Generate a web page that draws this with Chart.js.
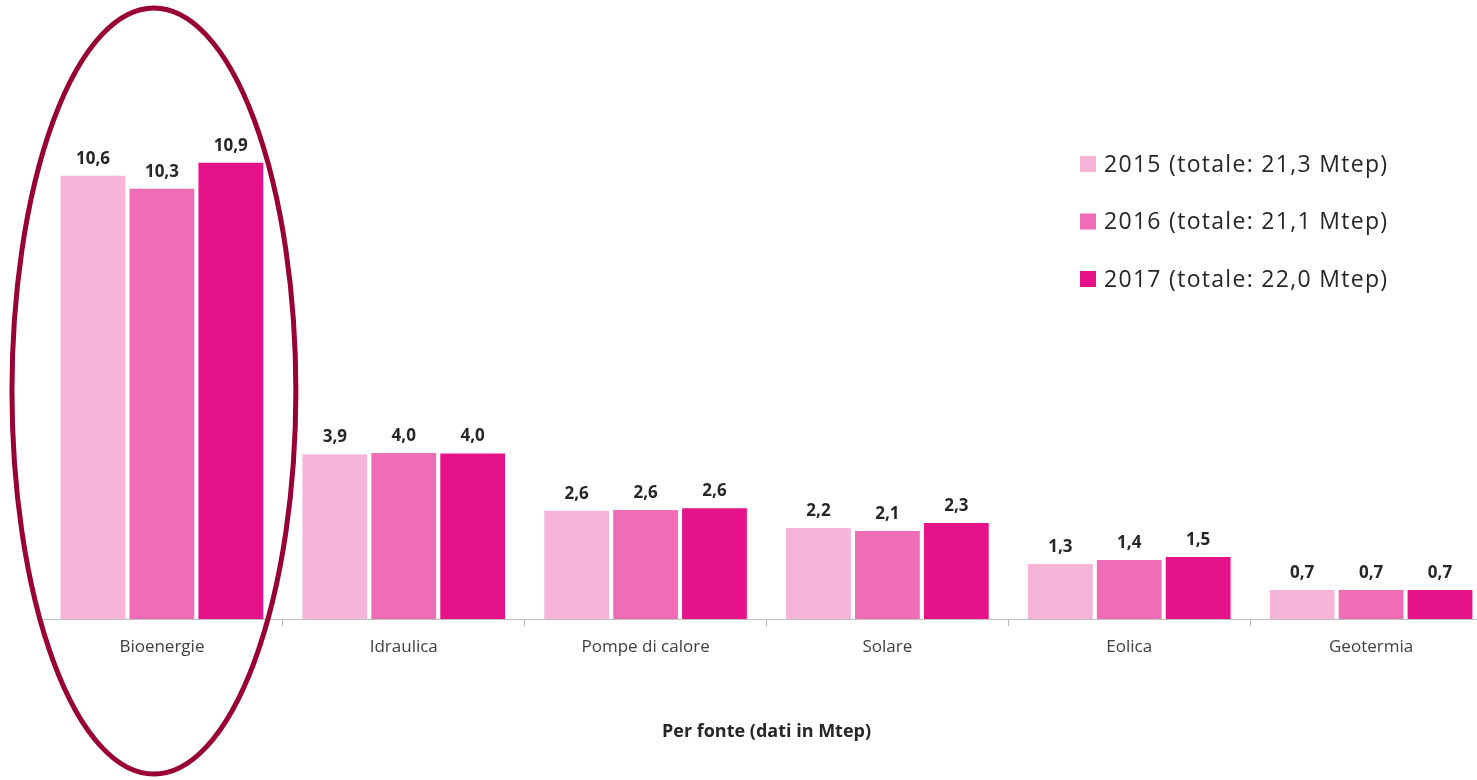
<!DOCTYPE html>
<html>
<head>
<meta charset="utf-8">
<script src="https://cdn.jsdelivr.net/npm/chart.js@4.4.1/dist/chart.umd.min.js"></script>
<style>
    html, body { margin: 0; padding: 0; background: #fff; overflow: hidden; }
    #wrap { position: absolute; left: 0; top: 0; width: 1492px; height: 780px; }
</style>
</head>
<body>
<div id="wrap"><canvas id="barChart"></canvas></div>
<script>
// categorie e valori (Mtep)
var fonti = ["Bioenergie", "Idraulica", "Pompe di calore", "Solare", "Eolica", "Geotermia"];
var anni = ["2015 (totale: 21,3 Mtep)", "2016 (totale: 21,1 Mtep)", "2017 (totale: 22,0 Mtep)"];
var valori2015 = [10.57, 3.93, 2.58, 2.17, 1.31, 0.69];
var valori2016 = [10.26, 3.96, 2.60, 2.10, 1.41, 0.69];
var valori2017 = [10.88, 3.95, 2.64, 2.29, 1.48, 0.69];
var colori = ["#f6b4d8", "#ef6db6", "#e5128a"];

var fontBase = "'Open Sans', sans-serif";

var etichette = {
    id: 'etichette',
    afterDatasetsDraw: function (chart) {
        var ctx = chart.ctx;
        ctx.save();
        ctx.font = "bold 17px " + fontBase;
        ctx.fillStyle = "#262626";
        ctx.textAlign = "center";
        ctx.textBaseline = "alphabetic";
        chart.data.datasets.forEach(function (ds, i) {
            chart.getDatasetMeta(i).data.forEach(function (bar, j) {
                ctx.fillText(ds.data[j].toFixed(1).replace('.', ','), bar.x, bar.y - 12);
            });
        });
        ctx.restore();
    }
};

var legenda = {
    id: 'legenda',
    afterDraw: function (chart) {
        var ctx = chart.ctx;
        ctx.save();
        ctx.font = "23px " + fontBase;
        ctx.letterSpacing = "1.3px";
        ctx.textAlign = "left";
        ctx.textBaseline = "middle";
        chart.data.datasets.forEach(function (ds, i) {
            var y = 164 + i * 57.5;
            ctx.fillStyle = ds.backgroundColor;
            ctx.fillRect(1080, y - 8, 16, 16);
            ctx.fillStyle = "#262626";
            ctx.fillText(ds.label, 1104, y + 1);
        });
        ctx.restore();
    }
};

var ellisse = {
    id: 'ellisse',
    afterDraw: function (chart) {
        var ctx = chart.ctx;
        var x = chart.scales.x;
        var w = x.getPixelForValue(1) - x.getPixelForValue(0);
        ctx.save();
        ctx.strokeStyle = "#990033";
        ctx.lineWidth = 5;
        ctx.beginPath();
        ctx.ellipse(x.getPixelForValue(0) - 8, 391, w * 0.587, 383, 0, 0, Math.PI * 2);
        ctx.stroke();
        ctx.restore();
    }
};

var barData = {
    labels: fonti,
    datasets: [
        { label: anni[0], data: valori2015, backgroundColor: colori[0] },
        { label: anni[1], data: valori2016, backgroundColor: colori[1] },
        { label: anni[2], data: valori2017, backgroundColor: colori[2] }
    ]
};

var ctx2 = document.getElementById("barChart").getContext("2d");
new Chart(ctx2, {
    type: 'bar',
    data: barData,
    options: {
        responsive: true,
        maintainAspectRatio: false,
        animation: false,
        datasets: {
            bar: { barPercentage: 0.94, categoryPercentage: 0.855 }
        },
        layout: { padding: { left: 41, right: 0, top: 32, bottom: 37 } },
        plugins: {
            legend: { display: false },
            tooltip: { enabled: false }
        },
        scales: {
            y: { display: false, min: 0, max: 14 },
            x: {
                border: { color: "#c0c0c0", width: 1 },
                grid: {
                    offset: true,
                    drawOnChartArea: false,
                    tickLength: 7,
                    color: function (c) { return c.index === 0 ? "rgba(0,0,0,0)" : "#b8b8b8"; }
                },
                ticks: {
                    color: "#404040",
                    padding: 11,
                    font: { family: fontBase, size: 17 }
                },
                title: {
                    display: true,
                    text: "Per fonte (dati in Mtep)",
                    color: "#262626",
                    font: { family: fontBase, size: 18, weight: 'bold' },
                    padding: { top: 53, bottom: 0 }
                }
            }
        }
    },
    plugins: [etichette, legenda, ellisse]
});
</script>
</body>
</html>
